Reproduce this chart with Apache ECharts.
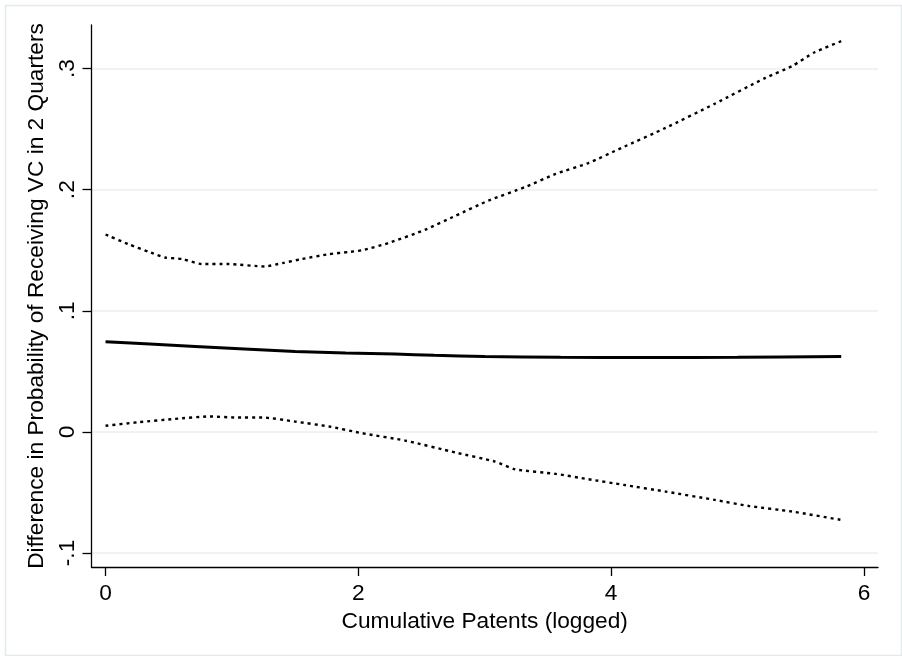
<!DOCTYPE html>
<html>
<head>
<meta charset="utf-8">
<script src="https://cdn.jsdelivr.net/npm/echarts@6/dist/echarts.min.js"></script>
<style>
html,body{margin:0;padding:0;background:#fff;}
#chart{width:902px;height:656px;}
</style>
</head>
<body>
<div id="chart"></div>
<script>
const xTitle = 'Cumulative Patents (logged)';
const yTitle = 'Difference in Probability of Receiving VC in 2 Quarters';
const xTicks = [0, 2, 4, 6];
const yTicks = [-0.1, 0, 0.1, 0.2, 0.3];

const centerX = [0, 0.35, 0.71, 1.1, 1.5, 1.9, 2.29, 2.6, 3.0, 3.6, 4.28, 5.0, 5.82];
const centerY = [0.0745, 0.0725, 0.0705, 0.0684, 0.0664, 0.0652, 0.0642, 0.0632, 0.0622, 0.0616, 0.0614, 0.0616, 0.0622];

const upperX = [0, 0.18, 0.36, 0.47, 0.61, 0.76, 0.97, 1.26, 1.40, 1.55, 1.77, 1.92, 2.03, 2.24, 2.53, 2.77, 3.03, 3.32, 3.56, 3.82, 4.08, 4.43, 4.82, 5.22, 5.43, 5.61, 5.82];
const upperY = [0.163, 0.155, 0.148, 0.144, 0.1427, 0.1386, 0.1386, 0.1366, 0.1394, 0.1427, 0.1468, 0.1485, 0.150, 0.156, 0.167, 0.1785, 0.191, 0.2022, 0.213, 0.222, 0.2344, 0.251, 0.271, 0.2923, 0.302, 0.3135, 0.3226];

const lowerX = [0, 0.26, 0.55, 0.82, 1.03, 1.24, 1.50, 1.77, 2.03, 2.37, 2.77, 3.08, 3.24, 3.56, 3.82, 4.10, 4.43, 4.82, 5.09, 5.43, 5.82];
const lowerY = [0.005, 0.008, 0.0107, 0.0127, 0.0119, 0.0119, 0.0085, 0.0044, -0.0011, -0.0072, -0.0171, -0.0245, -0.0309, -0.0347, -0.0391, -0.0438, -0.0493, -0.0562, -0.0612, -0.0658, -0.0727];

function pairs(xs, ys) { return xs.map((x, i) => [x, ys[i]]); }
function fmtY(v) {
  if (Math.abs(v) < 1e-9) return '0';
  let s = String(Math.round(v * 10) / 10);
  return s.replace(/^0\./, '.').replace(/^-0\./, '-.');
}

const FONT = 'Liberation Sans, Arial, Helvetica, sans-serif';
const FS = 22.7;
const chart = echarts.init(document.getElementById('chart'), null, {renderer: 'canvas'});
chart.setOption({
  animation: false,
  backgroundColor: '#ffffff',
  graphic: [{
    type: 'rect', left: 3, top: 3, silent: true,
    shape: {width: 896, height: 650},
    style: {fill: 'none', stroke: '#e2eaec', lineWidth: 1.5}
  }],
  grid: {left: 91.5, top: 25, right: 24, bottom: 89, containLabel: false},
  xAxis: {
    type: 'value', min: -0.111, max: 6.111,
    name: xTitle, nameLocation: 'middle', nameGap: 35,
    nameTextStyle: {color: '#000', fontSize: FS, fontFamily: FONT},
    axisLine: {onZero: false, lineStyle: {color: '#000', width: 1.3}},
    axisTick: {show: true, length: 9, lineStyle: {color: '#000', width: 1.3}, customValues: xTicks},
    axisLabel: {color: '#000', fontSize: FS, fontFamily: FONT, margin: 15, customValues: xTicks,
      formatter: v => String(v)},
    splitLine: {show: false}
  },
  yAxis: {
    type: 'value', min: -0.1116, max: 0.336,
    name: yTitle, nameLocation: 'middle', nameGap: 37, nameRotate: 90,
    nameTextStyle: {color: '#000', fontSize: FS, fontFamily: FONT},
    axisLine: {show: true, onZero: false, lineStyle: {color: '#000', width: 1.3}},
    axisTick: {show: true, length: 9, lineStyle: {color: '#000', width: 1.3}, customValues: yTicks},
    axisLabel: {color: '#000', fontSize: FS, fontFamily: FONT, margin: 12, rotate: 90, customValues: yTicks,
      formatter: v => fmtY(v)},
    splitLine: {show: true, lineStyle: {color: '#e8eff1', width: 1.6}}
  },
  series: [
    {type: 'line', name: 'upper', data: pairs(upperX, upperY), showSymbol: false, smooth: 0.2,
      lineStyle: {color: '#000', width: 2.4, type: [3, 4]}},
    {type: 'line', name: 'center', data: pairs(centerX, centerY), showSymbol: false, smooth: 0.3,
      lineStyle: {color: '#000', width: 3}},
    {type: 'line', name: 'lower', data: pairs(lowerX, lowerY), showSymbol: false, smooth: 0.2,
      lineStyle: {color: '#000', width: 2.4, type: [3, 4]}}
  ]
});
</script>
</body>
</html>
